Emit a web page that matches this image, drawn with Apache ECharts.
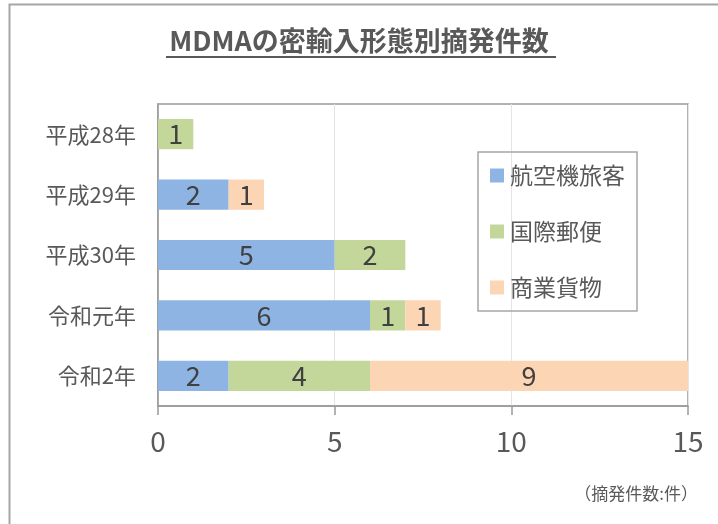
<!DOCTYPE html>
<html>
<head>
<meta charset="utf-8">
<script src="https://cdn.jsdelivr.net/npm/echarts@6/dist/echarts.min.js"></script>
<style>html,body{margin:0;padding:0;background:#fff}#c{width:718px;height:524px}</style>
</head>
<body>
<div id="c"></div>
<script>
const categories = ['平成28年', '平成29年', '平成30年', '令和元年', '令和2年'];
const seriesNames = ['航空機旅客', '国際郵便', '商業貨物'];
const airPassenger = [0, 2, 5, 6, 2];
const intlMail = [1, 0, 2, 1, 4];
const commercialCargo = [0, 1, 0, 1, 9];
const xTicks = [0, 5, 10, 15];
const colors = ['#8EB4E3', '#C4D79B', '#FCD5B5'];

const FONT = '"Noto Sans CJK JP", "Noto Sans", sans-serif';
const chart = echarts.init(document.getElementById('c'));
const values = [airPassenger, intlMail, commercialCargo];

chart.setOption({
  animation: false,
  backgroundColor: '#fff',
  title: {
    text: 'MDMAの密輸入形態別摘発件数',
    left: 'center',
    top: 22,
    textStyle: { fontFamily: FONT, fontSize: 27, fontWeight: 'bold', color: '#595959' }
  },
  graphic: [
    { type: 'rect', left: 7, top: 2, shape: { width: 800, height: 600 }, style: { fill: 'none', stroke: '#a6a6a6', lineWidth: 2 }, silent: true },
    { type: 'line', shape: { x1: 166, y1: 57, x2: 556, y2: 57 }, style: { stroke: '#595959', lineWidth: 2 }, silent: true },
    { type: 'text', right: 20, top: 485, style: { text: '（摘発件数:件）', font: '17px ' + FONT, fill: '#595959' } }
  ],
  legend: {
    orient: 'vertical',
    left: 478,
    top: 152,
    width: 140,
    padding: [12, 12, 12, 12],
    itemGap: 33,
    itemWidth: 14,
    itemHeight: 14,
    itemStyle: { borderWidth: 0 },
    icon: 'rect',
    borderColor: '#a6a6a6',
    borderWidth: 1.5,
    textStyle: { fontFamily: FONT, fontSize: 23, color: '#595959', padding: [0, 0, 0, 1] },
    data: seriesNames
  },
  grid: {
    left: 158, right: 30, top: 104, bottom: 118,
    show: true, borderColor: '#999', borderWidth: 1.5,
    containLabel: false
  },
  xAxis: {
    type: 'value',
    min: xTicks[0],
    max: xTicks[xTicks.length - 1],
    interval: 5,
    axisLine: { show: true, lineStyle: { color: '#999', width: 1.5 } },
    axisTick: { show: true, length: 9, lineStyle: { color: '#999', width: 1.5 } },
    splitLine: { show: true, lineStyle: { color: '#e4e4e4', width: 1 } },
    axisLabel: { margin: 21, fontFamily: FONT, fontSize: 28, color: '#595959' }
  },
  yAxis: {
    type: 'category',
    inverse: true,
    data: categories,
    axisLine: { show: true, lineStyle: { color: '#999', width: 1.5 } },
    axisTick: { show: false },
    axisLabel: { margin: 22, fontFamily: FONT, fontSize: 22, color: '#595959' }
  },
  series: seriesNames.map((name, i) => ({
    name: name,
    type: 'bar',
    stack: 'total',
    barCategoryGap: '50%',
    itemStyle: { color: colors[i] },
    label: {
      show: true,
      position: 'inside',
      fontFamily: FONT,
      fontSize: 27,
      color: '#404040',
      formatter: p => (p.value > 0 ? p.value : '')
    },
    data: values[i]
  }))
});
</script>
</body>
</html>
